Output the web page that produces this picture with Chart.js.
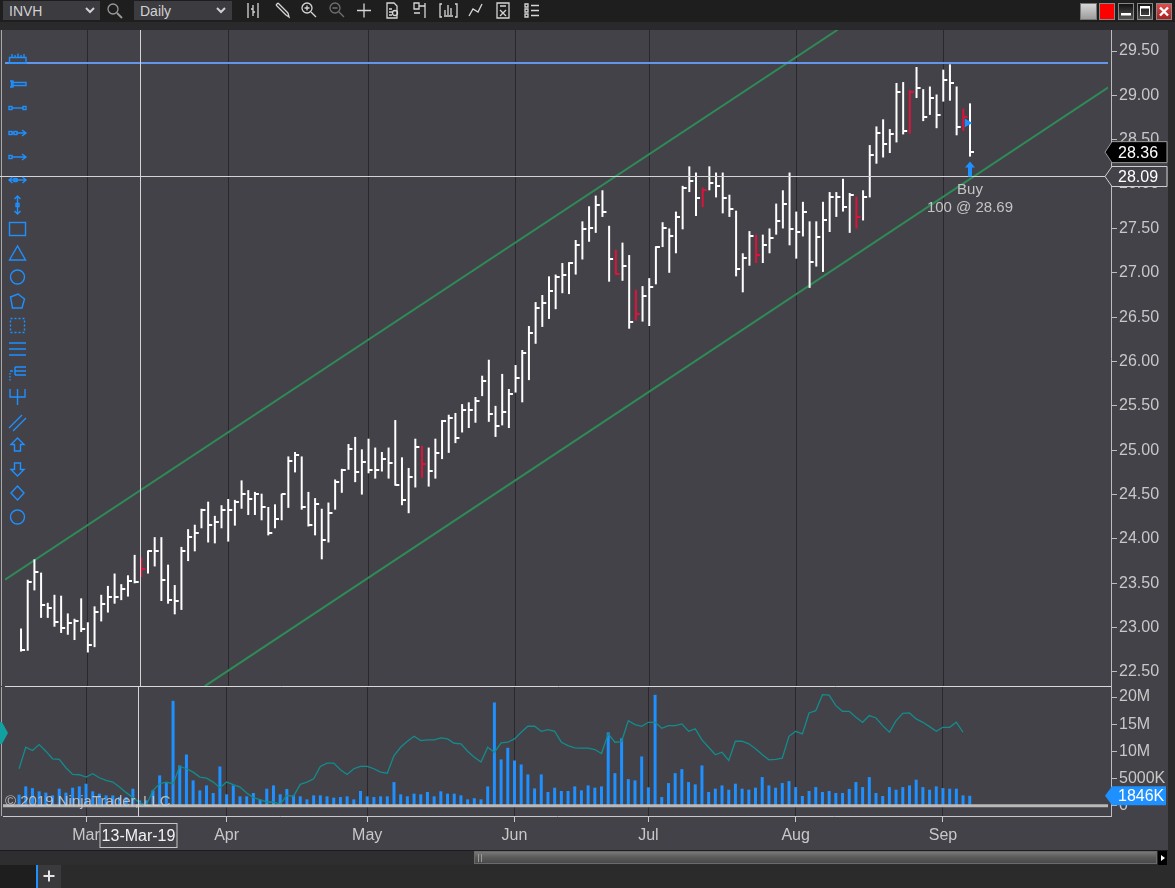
<!DOCTYPE html>
<html>
<head>
<meta charset="utf-8">
<title>INVH Daily</title>
<script src="https://cdn.jsdelivr.net/npm/chart.js@4.4.1/dist/chart.umd.min.js"></script>
<style>
  html, body { margin: 0; padding: 0; }
  body { width: 1175px; height: 888px; overflow: hidden; position: relative; background: #2b2b2b; font-family: "Liberation Sans", Arial, sans-serif; }
  #bg { position: absolute; left: 0; top: 30px; width: 1168px; height: 820px; background: #434249; }
  #priceBox { position: absolute; left: 0; top: 14px; width: 1168px; height: 688px; }
  #volBox { position: absolute; left: 0; top: 671px; width: 1168px; height: 179px; }
  svg { position: absolute; left: 0; pointer-events: none; }
  #top { top: 0; z-index: 5; }
  #tools { top: 0; z-index: 4; }
  #bottom { top: 850px; z-index: 5; }
</style>
</head>
<body>
<div id="bg"></div>
<div id="priceBox"><canvas id="price" width="1168" height="688"></canvas></div>
<div id="volBox"><canvas id="vol" width="1168" height="179"></canvas></div>

<svg id="top" width="1175" height="30">
  <defs>
    <linearGradient id="gGray" x1="0" y1="0" x2="0" y2="1"><stop offset="0" stop-color="#d8d8d8"/><stop offset="1" stop-color="#9a9a9a"/></linearGradient>
    <linearGradient id="gDark" x1="0" y1="0" x2="0" y2="1"><stop offset="0" stop-color="#111"/><stop offset="1" stop-color="#555"/></linearGradient>
    <linearGradient id="gClose" x1="0" y1="0" x2="0" y2="1"><stop offset="0" stop-color="#e05050"/><stop offset="1" stop-color="#a82020"/></linearGradient>
  </defs>
  <rect width="1175" height="22" fill="#1e1e1e"/>
  <rect y="22" width="1175" height="8" fill="#2a2a2c"/>
  <rect x="3" y="1" width="97" height="19" fill="#3b3b40"/>
  <text x="9" y="15.5" font-size="14" fill="#d2d2d2" font-family="Liberation Sans, Arial">INVH</text>
  <path d="M86 8 l4 4 l4 -4" stroke="#d0d0d0" stroke-width="2" fill="none"/>
  <circle cx="113" cy="9" r="5" stroke="#9a9a9a" fill="none" stroke-width="1.3"/>
  <path d="M117 13 L122 18" stroke="#9a9a9a" stroke-width="1.8"/>
  <rect x="134" y="1" width="98" height="19" fill="#3b3b40"/>
  <text x="140" y="15.5" font-size="14" fill="#d2d2d2" font-family="Liberation Sans, Arial">Daily</text>
  <path d="M217 8 l4 4 l4 -4" stroke="#d0d0d0" stroke-width="2" fill="none"/>
  <g stroke="#d6d6d6" stroke-width="1.3" fill="none">
    <path d="M248 3 V18 M258 3 V18 M253 5 V16 M251 9 H253 M253 12 H255"/>
    <path d="M276 5 L286 15 M278 3 L288 13 M276 5 L278 3 M286 15 L289 17 L288 13"/>
    <circle cx="307" cy="8" r="5"/><path d="M311 12 L316 17 M304.5 8 H309.5 M307 5.5 V10.5"/>
    <path d="M357 10.5 H371 M364 3.5 V17.5"/>
    <path d="M387 3 H394 L397 6 V18 H387 Z M389 9 H392 M389 12 H392 M389 15 H392"/><circle cx="395" cy="13" r="2.5"/>
    <path d="M414 3 H419 V9 H414 Z M419 6 H425 M425 3 V18 M414 13 H420"/>
    <path d="M442 4 H440 V17 H442 M455 4 H457 V17 H455 M445 15 V10 M448 15 V5 M451 15 V8 M444 16 H453"/>
    <path d="M469 16 L473 9 L478 12 L482 4"/>
    <path d="M497 3 H509 V18 H497 Z M500 6 H506 M500 10 L506 16 M506 10 L500 16"/>
    <path d="M525 4 H528 V7 H525 Z M525 9 H528 V12 H525 Z M525 14 H528 V17 H525 Z M531 5.5 H539 M531 10.5 H539 M531 15.5 H539"/>
  </g>
  <path d="M335 8 m-5 0 a5 5 0 1 0 10 0 a5 5 0 1 0 -10 0 M339 12 L344 17 M332.5 8 H337.5" stroke="#6f6f6f" stroke-width="1.3" fill="none"/>
  <rect x="1080.5" y="3.5" width="16" height="16" fill="url(#gGray)" stroke="#777"/>
  <rect x="1099.5" y="3.5" width="15" height="16" fill="#ff0000" stroke="#888"/>
  <rect x="1118.5" y="3.5" width="15" height="16" fill="url(#gDark)" stroke="#888"/>
  <rect x="1121" y="13" width="10" height="2.5" fill="#fff"/>
  <rect x="1137.5" y="3.5" width="15" height="16" fill="url(#gDark)" stroke="#888"/>
  <rect x="1140.5" y="6.5" width="9" height="9" fill="none" stroke="#fff" stroke-width="1"/>
  <rect x="1140.5" y="6.5" width="9" height="2" fill="#fff"/>
  <rect x="1156.5" y="3.5" width="15" height="16" fill="url(#gClose)" stroke="#888"/>
  <path d="M1160 7.5 L1168 15.5 M1168 7.5 L1160 15.5" stroke="#fff" stroke-width="2.4"/>
</svg>

<svg id="tools" width="36" height="530">
  <g stroke="#1e90ff" stroke-width="1.4" fill="none">
    <path d="M9.5 63 H26 V57.5 H9.5 Z M12 57.5 V54 M15 57.5 V55 M18 57.5 V53.5 M21 57.5 V55 M24 57.5 V54"/>
    <path d="M10 81 H13 V87 H10 M11.5 81 V87 M13 82.5 H26 V85.5 H13"/>
    <rect x="9" y="106.5" width="3" height="3"/><rect x="23" y="106.5" width="3" height="3"/><path d="M12 108 H23"/>
    <rect x="9" y="131.5" width="3" height="3"/><rect x="14" y="131.5" width="3" height="3"/><path d="M12 133 H14 M17 133 H26 M22 130 L26 133 L22 136"/>
    <rect x="9" y="155.5" width="3" height="3"/><path d="M12 157 H26 M22 154 L26 157 L22 160"/>
    <path d="M9 180 H26 M12.5 177 L9 180 L12.5 183 M22.5 177 L26 180 L22.5 183"/><rect x="14" y="178.5" width="3" height="3"/>
    <path d="M17.5 196 V214 M14.5 199 L17.5 196 L20.5 199 M14.5 211 L17.5 214 L20.5 211"/><rect x="16" y="203.5" width="3" height="3"/>
    <rect x="9.5" y="222.5" width="16" height="13"/>
    <path d="M17.5 246 L9.5 260 H25.5 Z"/>
    <circle cx="17.5" cy="277" r="7"/>
    <path d="M10.5 297 L18 294 L24.5 299 L22 308 H12.5 Z"/>
    <rect x="10.5" y="318.5" width="14" height="14" stroke-dasharray="2 2"/>
    <path d="M9 343 H26 M9 349 H26 M9 355 H26"/>
    <path d="M15 367 H26 M15 371 H26 M15 375 H26 M15 367 V375 M10 371 H13"/><path d="M10 373 V381" stroke-dasharray="1.5 1.5"/>
    <path d="M10 389 V397 H25 V389 M17.5 389 V405"/>
    <path d="M9 428 L22 415 M13 431 L26 418"/>
    <path d="M17.5 438 L24 444.5 H20.5 V451 H14.5 V444.5 H11 Z"/>
    <path d="M17.5 476 L24 469.5 H20.5 V463 H14.5 V469.5 H11 Z"/>
    <path d="M17.5 486 L24 493 L17.5 500 L11 493 Z"/>
    <circle cx="17.5" cy="517" r="7"/>
  </g>
</svg>

<svg id="bottom" width="1175" height="38">
  <defs>
    <linearGradient id="gThumb" x1="0" y1="0" x2="0" y2="1"><stop offset="0" stop-color="#7a7a7a"/><stop offset="0.5" stop-color="#5a5a5a"/><stop offset="1" stop-color="#484848"/></linearGradient>
  </defs>
  <rect width="1175" height="38" fill="#2b2b2b"/>
  <rect width="1168" height="15" fill="#2e2e30"/>
  <rect x="0" y="0" width="1168" height="1" fill="#1c1c1c"/>
  <rect x="474.5" y="1.5" width="682" height="12" fill="url(#gThumb)" stroke="#6a6a6a"/>
  <path d="M478.5 4 V12 M481.5 4 V12" stroke="#9a9a9a" stroke-width="1"/>
  <rect x="1158" y="1" width="9" height="14" fill="#000"/>
  <path d="M1161 5 L1165 8 L1161 11 Z" fill="#fff"/>
  <rect y="15" width="36" height="23" fill="#1e1e1e"/>
  <rect x="36" y="15" width="2" height="23" fill="#1e90ff"/>
  <rect x="38" y="15" width="23" height="23" fill="#3a3a3d"/>
  <path d="M43.5 26 H54.5 M49 20.5 V31.5" stroke="#e6e6e6" stroke-width="2"/>
</svg>

<script>
"use strict";

// x positions are trading-day indexes, 14-Feb-19 = 0 ... 09-Sep-19 = 142
var monthIdx = [10, 31, 52, 74, 94, 116, 138];
var monthNames = ["Mar", "Apr", "May", "Jun", "Jul", "Aug", "Sep"];
var priceTicks = [22.5, 23, 23.5, 24, 24.5, 25, 25.5, 26, 26.5, 27, 27.5, 28, 28.5, 29, 29.5];
var volTicks = [0, 5, 10, 15, 20];

// HLC bars
var highs = [
  22.99, 23.54, 23.77, 23.62, 23.28, 23.37, 23.36, 23.16, 23.10, 23.33,
  23.06, 23.24, 23.37, 23.47, 23.61, 23.49, 23.59, 23.82, 23.79, 23.87,
  24.02, 24.02, 23.71, 23.48, 23.91, 24.11, 24.16, 24.34, 24.42, 24.26,
  24.38, 24.45, 24.44, 24.66, 24.55, 24.53, 24.51, 24.36, 24.39, 24.51,
  24.93, 24.98, 24.93, 24.53, 24.46, 24.34, 24.41, 24.67, 24.79, 25.07,
  25.15, 25.01, 25.13, 25.03, 24.98, 25.03, 25.34, 24.92, 24.80, 25.13,
  25.05, 25.03, 25.13, 25.34, 25.40, 25.42, 25.52, 25.54, 25.60, 25.84,
  26.02, 25.50, 25.86, 25.69, 25.96, 26.13, 26.40, 26.67, 26.75, 26.96,
  26.98, 27.11, 27.12, 27.37, 27.58, 27.75, 27.87, 27.93, 27.53, 27.26,
  27.34, 27.20, 26.81, 26.85, 26.94, 27.30, 27.57, 27.50, 27.69, 27.98,
  28.20, 28.13, 27.96, 28.20, 28.13, 28.13, 27.88, 27.70, 27.22, 27.47,
  27.43, 27.43, 27.50, 27.78, 27.93, 28.13, 27.69, 27.80, 27.58, 27.58,
  27.80, 27.91, 27.91, 28.06, 27.90, 27.86, 27.93, 28.44, 28.65, 28.73,
  28.62, 29.14, 29.15, 29.06, 29.32, 29.07, 29.10, 29.01, 29.29, 29.35,
  29.10, 28.85, 28.91
];
var lows = [
  22.73, 22.74, 23.42, 23.11, 23.11, 23.01, 22.94, 22.92, 22.86, 22.95,
  22.72, 22.78, 23.07, 23.17, 23.27, 23.31, 23.35, 23.50, 23.57, 23.61,
  23.69, 23.30, 23.27, 23.15, 23.20, 23.75, 23.86, 24.12, 23.96, 23.95,
  24.12, 23.97, 24.15, 24.34, 24.27, 24.27, 24.21, 24.04, 24.12, 24.21,
  24.35, 24.75, 24.33, 24.14, 24.04, 23.77, 23.96, 24.33, 24.52, 24.78,
  24.64, 24.50, 24.74, 24.68, 24.76, 24.68, 24.60, 24.38, 24.29, 24.58,
  24.69, 24.59, 24.68, 24.90, 24.97, 25.08, 25.20, 25.25, 25.31, 25.61,
  25.32, 25.15, 25.28, 25.25, 25.65, 25.54, 25.79, 26.20, 26.39, 26.48,
  26.59, 26.77, 26.76, 26.98, 27.15, 27.35, 27.45, 27.63, 26.90, 26.98,
  26.91, 26.37, 26.46, 26.45, 26.40, 26.87, 27.29, 27.00, 27.22, 27.49,
  27.91, 27.64, 27.74, 27.93, 27.85, 27.67, 27.63, 26.96, 26.78, 27.08,
  27.11, 27.11, 27.22, 27.43, 27.50, 27.31, 27.16, 27.41, 26.83, 27.07,
  27.01, 27.46, 27.63, 27.69, 27.45, 27.50, 27.59, 27.85, 28.23, 28.30,
  28.35, 28.47, 28.56, 28.57, 28.97, 28.71, 28.78, 28.63, 28.93, 28.94,
  28.55, 28.60, 28.31
];
var closes = [
  22.75, 23.52, 23.63, 23.25, 23.22, 23.06, 23.00, 23.05, 23.07, 22.99,
  22.80, 23.18, 23.27, 23.35, 23.34, 23.43, 23.53, 23.52, 23.66, 23.86,
  23.86, 23.54, 23.31, 23.30, 23.86, 24.02, 24.07, 24.33, 24.16, 24.19,
  24.33, 24.33, 24.42, 24.51, 24.45, 24.51, 24.36, 24.07, 24.23, 24.51,
  24.88, 24.95, 24.36, 24.16, 24.39, 23.99, 24.29, 24.64, 24.78, 25.01,
  24.75, 24.87, 24.78, 24.78, 24.90, 24.86, 24.61, 24.44, 24.70, 25.04,
  24.84, 24.77, 24.97, 25.33, 25.36, 25.14, 25.45, 25.45, 25.55, 25.78,
  25.41, 25.27, 25.43, 25.63, 25.81, 26.10, 26.32, 26.60, 26.66, 26.80,
  26.95, 26.98, 27.11, 27.31, 27.49, 27.50, 27.76, 27.69, 27.16, 26.99,
  27.08, 26.45, 26.54, 26.74, 26.84, 27.29, 27.50, 27.41, 27.63, 27.96,
  28.03, 27.84, 27.93, 28.01, 27.98, 27.84, 27.72, 27.04, 27.17, 27.41,
  27.20, 27.31, 27.39, 27.58, 27.77, 27.49, 27.46, 27.68, 27.12, 27.40,
  27.59, 27.86, 27.86, 27.74, 27.88, 27.63, 27.86, 28.33, 28.58, 28.45,
  28.56, 29.04, 28.60, 29.04, 29.08, 28.76, 28.97, 28.78, 29.17, 29.14,
  28.64, 28.76, 28.36
];
// bars painted red on the chart
var redBars = [18, 60, 89, 92, 102, 110, 125, 133, 141];

// volume in millions
var volumes = [
  2.05, 3.57, 3.26, 2.66, 2.42, 1.92, 3.15, 2.42, 3.33, 3.57,
  4.06, 2.66, 2.23, 1.92, 1.92, 1.61, 1.61, 3.15, 1.00, 1.00,
  2.84, 5.59, 4.18, 19.3, 7.42, 9.43, 4.67, 2.84, 3.75, 2.35,
  7.23, 2.11, 3.75, 1.74, 1.74, 2.35, 1.13, 3.15, 3.75, 2.11,
  3.10, 1.92, 1.74, 1.19, 1.92, 1.92, 1.74, 1.50, 1.61, 1.74,
  1.19, 2.72, 1.74, 1.61, 1.74, 1.74, 4.36, 2.11, 1.74, 2.23,
  2.11, 2.54, 1.74, 2.66, 2.23, 2.23, 1.92, 1.19, 1.40, 1.19,
  3.57, 19.0, 8.52, 10.66, 8.33, 7.60, 5.77, 3.20, 5.77, 2.54,
  3.33, 2.72, 2.72, 3.57, 2.84, 3.75, 3.33, 3.57, 13.5, 6.00,
  12.4, 4.90, 4.67, 9.07, 3.39, 20.4, 1.61, 4.18, 6.00, 6.74,
  4.36, 3.94, 7.42, 2.54, 3.15, 3.75, 2.96, 4.06, 3.15, 2.96,
  3.33, 5.28, 3.75, 3.33, 4.18, 4.54, 3.44, 1.80, 2.72, 3.44,
  2.54, 2.72, 2.35, 2.35, 3.10, 4.36, 3.44, 5.28, 2.35, 1.80,
  3.44, 2.96, 3.44, 3.75, 4.80, 3.44, 2.96, 3.57, 3.26, 3.15,
  3.15, 1.92, 1.846
];
// teal indicator line in the volume panel
var volAvg = [
  6.81, 10.77, 10.16, 11.26, 10.04, 8.64, 8.52, 7.00, 5.77, 5.71,
  5.28, 5.90, 5.16, 4.67, 4.36, 3.44, 2.42, 1.50, 0.60, 0.10,
  2.84, 4.06, 4.36, 4.06, 7.23, 6.81, 6.19, 5.28, 5.09, 4.36,
  3.33, 4.36, 3.88, 3.44, 2.35, 1.50, 1.13, 0.70, 0.70, 0.27,
  1.92, 1.74, 3.94, 4.36, 4.98, 7.23, 7.84, 7.84, 6.63, 5.77,
  6.81, 7.23, 7.23, 6.81, 6.19, 6.00, 9.25, 10.77, 11.87, 12.78,
  12.00, 12.12, 12.12, 12.49, 12.30, 11.50, 11.39, 10.04, 8.94, 8.03,
  10.77, 9.85, 11.57, 11.69, 12.30, 13.52, 14.62, 14.62, 13.70, 14.01,
  13.70, 11.69, 11.08, 10.66, 10.59, 10.59, 10.35, 9.60, 13.22, 11.69,
  11.81, 15.66, 14.93, 14.62, 15.35, 15.35, 14.25, 14.74, 14.74, 15.05,
  13.70, 14.14, 12.12, 10.77, 9.38, 9.85, 8.33, 11.87, 11.90, 11.39,
  10.48, 9.43, 8.46, 8.52, 8.75, 12.78, 13.70, 13.22, 17.07, 17.49,
  20.42, 20.36, 18.41, 17.36, 17.36, 16.26, 15.35, 16.58, 16.15, 14.74,
  13.52, 15.66, 17.00, 17.07, 15.97, 15.35, 14.56, 13.70, 14.43, 14.43,
  15.35, 13.52, null
];

// drawing objects [index, price]
var channelUpper = [[-2.4, 23.54], [122.2, 29.74]];
var channelLower = [[27.5, 22.34], [162.7, 29.09]];
var resistance = 29.365;

var crossIdx = 17.8, crossPrice = 28.09, crossDate = "13-Mar-19";
var lastPrice = 28.36, lastVolume = "1846K";
var buyIdx = 142, buyQty = 100, buyPrice = 28.69, fillIdx = 141.6;

var xMin = -2.4, xMax = 163.1;
var priceMin = 22.342, priceMax = 29.737;
var volMin = -1.875, volMax = 21.84;

Chart.defaults.font.family = '"Liberation Sans", Arial, sans-serif';
Chart.defaults.font.size = 16;
Chart.defaults.color = "#c8c8c8";

var FONT = '"Liberation Sans", Arial, sans-serif';
var areaClip = { left: 0, top: 0, right: -3, bottom: 0 };

function axisWidth(s) { s.width = 57; }
function setTicks(values) {
  return function (s) { s.ticks = values.map(function (v) { return { value: v }; }); };
}
function isRed(i) { return redBars.indexOf(i) >= 0; }

// close tick drawn to the right of the bar
function tickImg(color) {
  var c = document.createElement("canvas");
  c.width = 10; c.height = 2;
  var g = c.getContext("2d");
  g.fillStyle = color;
  g.fillRect(5, 0, 4, 2);
  return c;
}
var closeW = tickImg("#ffffff"), closeR = tickImg("#dc143c");

function tag(ctx, x, cy, w, h, fill, stroke, text, color) {
  ctx.beginPath();
  ctx.moveTo(x, cy);
  ctx.lineTo(x + 7, cy - h / 2);
  ctx.lineTo(x + w, cy - h / 2);
  ctx.lineTo(x + w, cy + h / 2);
  ctx.lineTo(x + 7, cy + h / 2);
  ctx.closePath();
  ctx.fillStyle = fill;
  ctx.fill();
  if (stroke) { ctx.strokeStyle = stroke; ctx.lineWidth = 1; ctx.stroke(); }
  ctx.fillStyle = color;
  ctx.font = "16px " + FONT;
  ctx.textAlign = "left";
  ctx.textBaseline = "middle";
  ctx.fillText(text, x + 13, cy + 1);
}

var priceDeco = {
  id: "priceDeco",
  afterDraw: function (chart) {
    var ctx = chart.ctx, a = chart.chartArea, x = chart.scales.x, y = chart.scales.y;
    ctx.save();
    ctx.lineWidth = 1;
    ctx.strokeStyle = "#a9a9a9";
    ctx.beginPath(); ctx.moveTo(1.5, a.top); ctx.lineTo(1.5, a.bottom); ctx.stroke();

    // crosshair
    var cx = Math.round(x.getPixelForValue(crossIdx)) + 0.5;
    var cy = Math.round(y.getPixelForValue(crossPrice)) + 0.5;
    ctx.strokeStyle = "#d4d4d4";
    ctx.beginPath();
    ctx.moveTo(0, cy); ctx.lineTo(a.right - 3, cy);
    ctx.moveTo(cx, a.top); ctx.lineTo(cx, a.bottom);
    ctx.stroke();

    // buy marker under the last bar
    var bx = x.getPixelForValue(buyIdx);
    var by = y.getPixelForValue(lows[buyIdx]) + 5;
    ctx.fillStyle = "#1e90ff";
    ctx.beginPath();
    ctx.moveTo(bx, by); ctx.lineTo(bx + 5, by + 6); ctx.lineTo(bx + 2, by + 6);
    ctx.lineTo(bx + 2, by + 15); ctx.lineTo(bx - 2, by + 15); ctx.lineTo(bx - 2, by + 6);
    ctx.lineTo(bx - 5, by + 6); ctx.closePath(); ctx.fill();
    ctx.fillStyle = "#c4c4c4";
    ctx.font = "15px " + FONT;
    ctx.textAlign = "center";
    ctx.textBaseline = "middle";
    ctx.fillText("Buy", bx, by + 28);
    ctx.fillText(buyQty + " @ " + buyPrice.toFixed(2), bx, by + 46);

    // axis tags
    tag(ctx, a.right - 6, y.getPixelForValue(lastPrice), 62, 21, "#000000", "#9a9a9a", lastPrice.toFixed(2), "#ffffff");
    tag(ctx, a.right - 6, cy, 62, 20, "#434249", "#cfcfcf", crossPrice.toFixed(2), "#ffffff");
    ctx.restore();
  }
};

var volDeco = {
  id: "volDeco",
  afterDraw: function (chart) {
    var ctx = chart.ctx, a = chart.chartArea, x = chart.scales.x, y = chart.scales.y;
    ctx.save();
    ctx.lineWidth = 1;
    ctx.strokeStyle = "#a9a9a9";
    ctx.beginPath(); ctx.moveTo(1.5, a.top); ctx.lineTo(1.5, a.bottom); ctx.stroke();

    var cx = Math.round(x.getPixelForValue(crossIdx)) + 0.5;
    ctx.strokeStyle = "#d4d4d4";
    ctx.beginPath(); ctx.moveTo(cx, a.top); ctx.lineTo(cx, a.bottom); ctx.stroke();

    // copyright
    ctx.fillStyle = "rgba(205,205,205,0.85)";
    ctx.font = "15px " + FONT;
    ctx.textAlign = "left";
    ctx.textBaseline = "alphabetic";
    ctx.fillText("\u00a9 2019 NinjaTrader, LLC", 5, y.getPixelForValue(0));

    // indicator marker on the left edge
    var hy = y.getPixelForValue(13.4);
    ctx.fillStyle = "#12a0a0";
    ctx.beginPath();
    ctx.moveTo(-4, hy - 11); ctx.lineTo(2, hy - 11); ctx.lineTo(8, hy);
    ctx.lineTo(2, hy + 11); ctx.lineTo(-4, hy + 11); ctx.closePath(); ctx.fill();

    tag(ctx, a.right - 6, y.getPixelForValue(volumes[volumes.length - 1]), 61, 19, "#1e90ff", null, lastVolume, "#ffffff");

    // date box of the crosshair
    ctx.fillStyle = "#434249";
    ctx.fillRect(cx - 38.5, a.bottom + 7, 77, 25);
    ctx.strokeStyle = "#c8c8c8";
    ctx.strokeRect(cx - 38.5, a.bottom + 7.5, 77, 24);
    ctx.fillStyle = "#f2f2f2";
    ctx.font = "16px " + FONT;
    ctx.textAlign = "center";
    ctx.textBaseline = "middle";
    ctx.fillText(crossDate, cx, a.bottom + 20.5);
    ctx.restore();
  }
};

var barsData = highs.map(function (h, i) { return { x: i, y: [lows[i], h] }; });
var closeData = closes.map(function (v, i) { return { x: i, y: v }; });
function pts(arr) { return arr.map(function (p) { return { x: p[0], y: p[1] }; }); }

new Chart(document.getElementById("price"), {
  type: "bar",
  data: {
    datasets: [
      { type: "line", data: pts(channelUpper), borderColor: "#2e8b57", borderWidth: 2, pointRadius: 0, order: 6, clip: areaClip },
      { type: "line", data: pts(channelLower), borderColor: "#2e8b57", borderWidth: 2, pointRadius: 0, order: 6, clip: areaClip },
      { type: "line", data: [{ x: xMin, y: resistance }, { x: xMax, y: resistance }], borderColor: "#6495ed", borderWidth: 2, pointRadius: 0, order: 5, clip: areaClip },
      {
        type: "bar", data: barsData, barThickness: 2, inflateAmount: 0, order: 3,
        backgroundColor: function (c) { return isRed(c.dataIndex) ? "#dc143c" : "#ffffff"; }
      },
      {
        type: "scatter", data: closeData, pointRadius: 2, pointHoverRadius: 0, order: 2,
        pointStyle: function (c) { return isRed(c.dataIndex) ? closeR : closeW; }
      },
      {
        type: "scatter", data: [{ x: fillIdx, y: buyPrice }], pointStyle: "triangle", rotation: 90,
        pointRadius: 5, backgroundColor: "#1e90ff", borderWidth: 0, order: 1
      }
    ]
  },
  options: {
    responsive: false,
    animation: false,
    events: [],
    layout: { padding: { left: 3, top: 16, bottom: 15, right: 0 } },
    plugins: { legend: { display: false }, tooltip: { enabled: false } },
    scales: {
      x: {
        type: "linear", min: xMin, max: xMax, offset: false,
        afterBuildTicks: setTicks(monthIdx),
        afterFit: function (s) { s.height = 1; },
        grid: { offset: false, color: "#29292d", drawTicks: false },
        ticks: { display: false },
        border: { display: true, color: "#d9d9d9" }
      },
      y: {
        position: "right", min: priceMin, max: priceMax,
        afterBuildTicks: setTicks(priceTicks),
        afterFit: axisWidth,
        grid: { drawOnChartArea: false, tickLength: 6, color: "#bdbdbd" },
        border: { color: "#bdbdbd" },
        ticks: { padding: 2, color: "#c8c8c8", callback: function (v) { return Number(v).toFixed(2); } }
      }
    }
  },
  plugins: [priceDeco]
});

new Chart(document.getElementById("vol"), {
  type: "bar",
  data: {
    datasets: [
      { type: "line", data: [{ x: xMin, y: 0 }, { x: xMax, y: 0 }], borderColor: "#b9b9b9", borderWidth: 3, pointRadius: 0, order: 0, clip: areaClip },
      { type: "line", data: volAvg.map(function (v, i) { return { x: i, y: v }; }), borderColor: "#138c8c", borderWidth: 1.3, pointRadius: 0, order: 1 },
      { type: "bar", data: volumes.map(function (v, i) { return { x: i, y: v }; }), backgroundColor: "#1e90ff", barThickness: 3, inflateAmount: 0, order: 2 }
    ]
  },
  options: {
    responsive: false,
    animation: false,
    events: [],
    layout: { padding: { left: 3, top: 16, bottom: 0, right: 0 } },
    plugins: { legend: { display: false }, tooltip: { enabled: false } },
    scales: {
      x: {
        type: "linear", min: xMin, max: xMax, offset: false,
        afterBuildTicks: setTicks(monthIdx),
        afterFit: function (s) { s.height = 34; },
        grid: { offset: false, color: "#29292d", tickColor: "#c8c8c8", tickLength: 6 },
        border: { display: true, color: "#c8c8c8" },
        ticks: {
          padding: 4, autoSkip: false, maxRotation: 0, color: "#c8c8c8",
          callback: function (v) { return monthNames[monthIdx.indexOf(v)]; }
        }
      },
      y: {
        position: "right", min: volMin, max: volMax,
        afterBuildTicks: setTicks(volTicks),
        afterFit: axisWidth,
        grid: { drawOnChartArea: false, tickLength: 6, color: "#bdbdbd" },
        border: { color: "#bdbdbd" },
        ticks: {
          padding: 2, color: "#c8c8c8",
          callback: function (v) { return v === 0 ? "0" : v === 5 ? "5000K" : v + "M"; }
        }
      }
    }
  },
  plugins: [volDeco]
});
</script>
</body>
</html>
